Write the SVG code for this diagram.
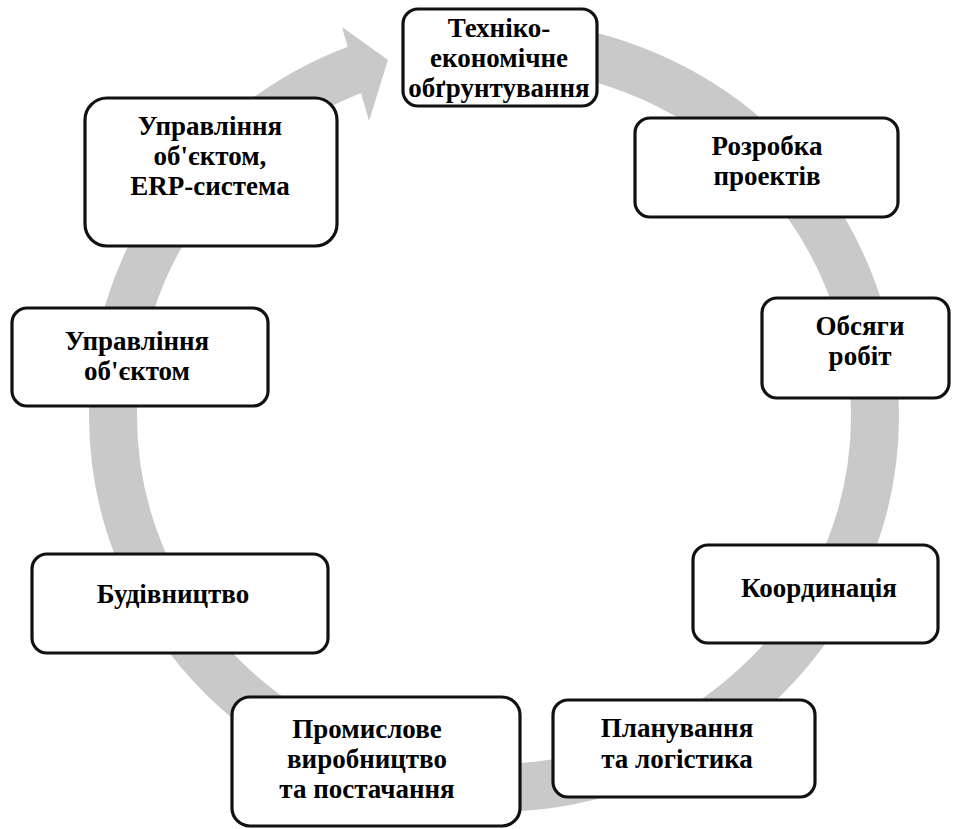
<svg xmlns="http://www.w3.org/2000/svg" width="953" height="829" viewBox="0 0 953 829">
<style>
.box{fill:#fff;stroke:#111;stroke-width:3.2}
.t{font-family:"Liberation Serif","Times New Roman","DejaVu Serif",serif;font-weight:bold;font-size:27px;fill:#000;text-anchor:middle}
.ring{fill:none;stroke:#c9c9c9;stroke-width:48}
</style>
<rect width="953" height="829" fill="#fff"/>
<g id="connectors">
<path class="ring" d="M494,44 A381,372 0 0 1 875,416 A381,372 0 0 1 494,788 A381,372 0 0 1 113,416 A381,372 0 0 1 357.5,68.7"/>
<polygon points="342,27 388,60 369,121" fill="#c9c9c9"/>
</g>
<g id="n1"><rect class="box" x="403" y="9" width="194" height="97" rx="15"/>
<text class="t" x="499" y="37">Техніко-</text><text class="t" x="499" y="67">економічне</text><text class="t" x="499" y="97">обґрунтування</text></g>
<g id="n2"><rect class="box" x="85" y="98" width="252" height="148" rx="22"/>
<text class="t" x="210" y="135">Управління</text><text class="t" x="210" y="165">об'єктом,</text><text class="t" x="210" y="195">ERP-система</text></g>
<g id="n3"><rect class="box" x="12" y="308" width="256" height="98" rx="15"/>
<text class="t" x="137" y="350">Управління</text><text class="t" x="137" y="380">об'єктом</text></g>
<g id="n4"><rect class="box" x="635" y="118" width="263" height="99" rx="15"/>
<text class="t" x="767" y="155">Розробка</text><text class="t" x="767" y="185">проектів</text></g>
<g id="n5"><rect class="box" x="762" y="298" width="187" height="100" rx="15"/>
<text class="t" x="860" y="335">Обсяги</text><text class="t" x="860" y="365">робіт</text></g>
<g id="n6"><rect class="box" x="32" y="554" width="296" height="99" rx="15"/>
<text class="t" x="173" y="603">Будівництво</text></g>
<g id="n7"><rect class="box" x="693" y="545" width="245" height="98" rx="15"/>
<text class="t" x="819" y="597">Координація</text></g>
<g id="n8"><rect class="box" x="232" y="697" width="288" height="129" rx="18"/>
<text class="t" x="367" y="738">Промислове</text><text class="t" x="367" y="768">виробництво</text><text class="t" x="367" y="798">та постачання</text></g>
<g id="n9"><rect class="box" x="553" y="700" width="262" height="97" rx="15"/>
<text class="t" x="677" y="737">Планування</text><text class="t" x="677" y="768">та логістика</text></g>
</svg>
